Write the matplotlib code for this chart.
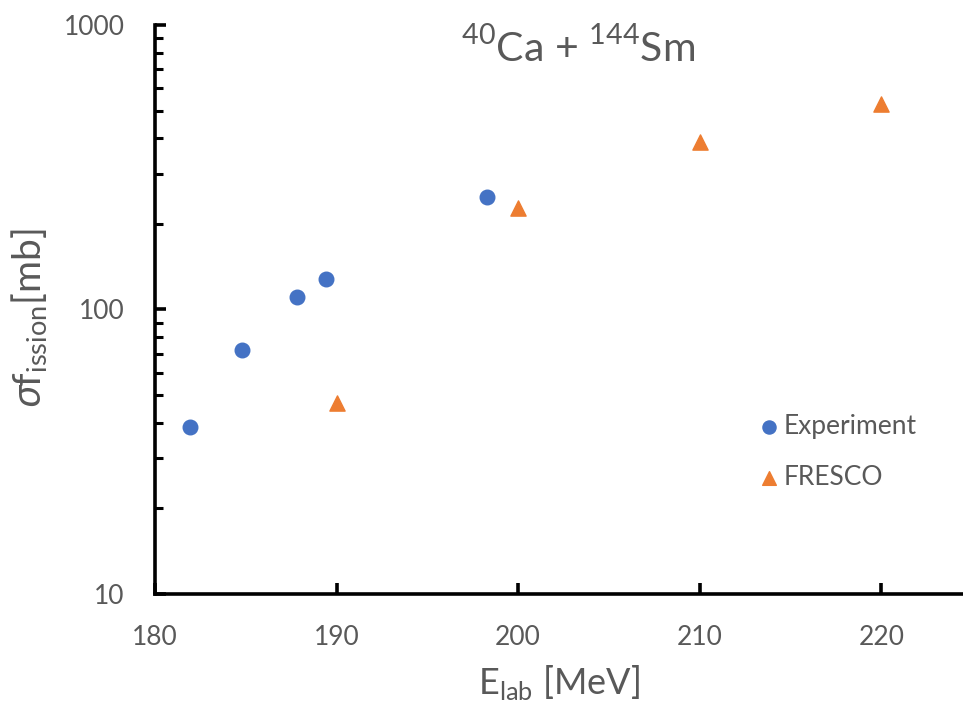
import matplotlib
matplotlib.use("Agg")
import matplotlib.pyplot as plt

# experimental fission cross sections
exp_energy = [181.9, 184.8, 187.8, 189.4, 198.3]
exp_sigma = [38.5, 72.0, 111.0, 128.5, 249.0]

# FRESCO calculation
fresco_energy = [190, 200, 210, 220]
fresco_sigma = [47.0, 228.0, 388.0, 528.0]

x_ticks = [180, 190, 200, 210, 220]
y_ticks = [10, 100, 1000]

GREY = "#595959"

plt.rcParams["font.family"] = ["Lato", "DejaVu Sans"]
plt.rcParams["mathtext.fontset"] = "custom"
plt.rcParams["mathtext.rm"] = "Lato"
plt.rcParams["mathtext.it"] = "Noto Sans:italic"

fig = plt.figure(figsize=(9.63, 7.11), dpi=100)
ax = fig.add_axes([0.161, 0.1646, 0.839, 0.8002])

ax.scatter(exp_energy, exp_sigma, s=110, marker="o", color="#4472C4",
           label="Experiment", zorder=3)
ax.scatter(fresco_energy, fresco_sigma, s=120, marker="^", color="#ED7D31",
           label="FRESCO", zorder=3)

ax.set_yscale("log")
ax.set_xlim(180, 224.5)
ax.set_ylim(10, 1000)
ax.set_xticks(x_ticks)
ax.set_xticklabels([str(t) for t in x_ticks])
ax.set_yticks(y_ticks)
ax.set_yticklabels([str(t) for t in y_ticks])

for side in ("top", "right"):
    ax.spines[side].set_visible(False)
for side in ("left", "bottom"):
    ax.spines[side].set_linewidth(2.6)
    ax.spines[side].set_color("black")

ax.tick_params(axis="both", which="major", direction="in", length=8, width=2.6,
               colors="black", labelcolor=GREY, labelsize=19)
ax.tick_params(axis="y", which="minor", direction="in", length=6, width=2.2,
               colors="black")
ax.tick_params(axis="x", which="minor", bottom=False)
ax.tick_params(axis="y", which="major", pad=22)
ax.tick_params(axis="x", which="major", pad=22)

ax.set_xlabel(r"E$_{\mathregular{lab}}$ [MeV]", fontsize=26, color=GREY, labelpad=10)
ax.set_ylabel(r"$\sigma$f$_{\mathregular{ission}}$[mb]", fontsize=28, color=GREY)
ax.yaxis.set_label_coords(-0.13, 0.485)

ax.text(0.523, 0.998, r"$^{\mathregular{40}}$Ca + $^{\mathregular{144}}$Sm",
        transform=ax.transAxes, ha="center", va="top", fontsize=29.5, color=GREY)

ax.legend(loc="center left", bbox_to_anchor=(0.714, 0.25), frameon=False,
          fontsize=19, labelcolor=GREY, handletextpad=0.05, labelspacing=1.0,
          markerscale=0.9, handlelength=1.0)

fig.savefig("out.png", dpi=100)
